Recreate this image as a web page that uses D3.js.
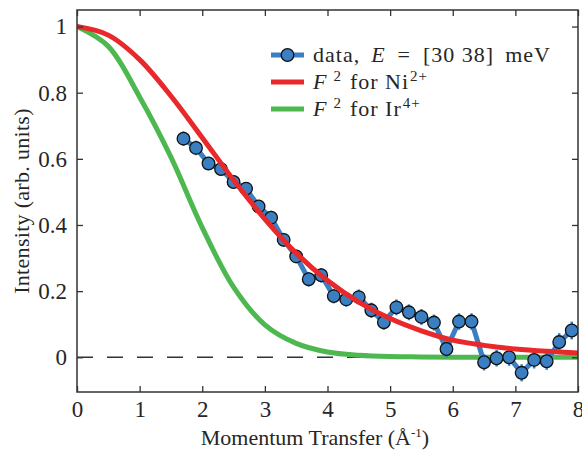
<!DOCTYPE html>
<html>
<head>
<meta charset="utf-8">
<script src="https://cdn.jsdelivr.net/npm/d3@7"></script>
<style>
  body { margin: 0; background: #fff; }
</style>
</head>
<body>
<div id="chart"></div>
<script>
// measured intensity vs momentum transfer
const dataQ = [1.7, 1.9, 2.1, 2.3, 2.5, 2.7, 2.9, 3.1, 3.3, 3.5, 3.7, 3.9, 4.1, 4.3, 4.5, 4.7,
               4.9, 5.1, 5.3, 5.5, 5.7, 5.9, 6.1, 6.3, 6.5, 6.7, 6.9, 7.1, 7.3, 7.5, 7.7, 7.9];
const dataI = [0.661, 0.633, 0.586, 0.569, 0.530, 0.510, 0.456, 0.422, 0.355, 0.305, 0.236, 0.248,
               0.185, 0.175, 0.182, 0.142, 0.106, 0.151, 0.136, 0.122, 0.105, 0.025, 0.108, 0.108,
               -0.015, -0.003, 0.000, -0.047, -0.008, -0.012, 0.046, 0.081];
const dataErr = [0.022, 0.022, 0.02, 0.02, 0.02, 0.02, 0.02, 0.021, 0.021, 0.021, 0.022, 0.022,
                 0.022, 0.022, 0.023, 0.023, 0.023, 0.024, 0.024, 0.024, 0.024, 0.025, 0.025, 0.025,
                 0.025, 0.025, 0.026, 0.026, 0.026, 0.026, 0.027, 0.027];

// form factor curves
const curveQ  = [0, 0.5, 1, 1.5, 2, 2.5, 3, 3.5, 4, 4.5, 5, 5.5, 6, 6.5, 7, 7.5, 8];
const niF2    = [1, 0.974, 0.900, 0.790, 0.664, 0.536, 0.418, 0.315, 0.232, 0.167, 0.117, 0.080,
                 0.052, 0.036, 0.025, 0.018, 0.013];
const irF2    = [1, 0.940, 0.787, 0.605, 0.392, 0.212, 0.098, 0.042, 0.016, 0.006, 0.002, 0.001,
                 0, 0, 0, 0, 0];

const xTicks = [0, 1, 2, 3, 4, 5, 6, 7, 8];
const yTicks = [0, 0.2, 0.4, 0.6, 0.8, 1];

const W = 582, H = 453;
const MARGIN = {top: 10, right: 4, bottom: 61, left: 77};
const FONT = '"Liberation Serif"';
const INK = "#262626";

const BLUE = "#3a7fc1", RED = "#e8282b", GREEN = "#4db84f";

const svg = d3.select("#chart").append("svg")
  .attr("width", W)
  .attr("height", H);

const x = d3.scaleLinear().domain([0, 8]).range([MARGIN.left, W - MARGIN.right]);
const y = d3.scaleLinear().domain([-0.105, 1.05]).range([H - MARGIN.bottom, MARGIN.top]);

svg.append("clipPath").attr("id", "plotclip")
  .append("rect")
    .attr("x", x(0)).attr("y", y(1.05))
    .attr("width", x(8) - x(0)).attr("height", y(-0.105) - y(1.05));

const plot = svg.append("g").attr("clip-path", "url(#plotclip)");

// zero reference line
plot.append("line")
  .attr("x1", x(0)).attr("x2", x(8))
  .attr("y1", y(0)).attr("y2", y(0))
  .attr("stroke", "#333")
  .attr("stroke-width", 1.4)
  .attr("stroke-dasharray", "16,14");

const curveLine = vals => d3.line()
  .x((d, i) => x(curveQ[i]))
  .y((d, i) => y(vals[i]))
  .curve(d3.curveCatmullRom.alpha(0.5))(vals);

plot.append("path")
  .attr("d", curveLine(irF2))
  .attr("fill", "none")
  .attr("stroke", GREEN)
  .attr("stroke-width", 5);

// data: line, error bars, markers
const pts = dataQ.map((q, i) => ({q, v: dataI[i], e: dataErr[i]}));

plot.append("path")
  .datum(pts)
  .attr("d", d3.line().x(d => x(d.q)).y(d => y(d.v)))
  .attr("fill", "none")
  .attr("stroke", BLUE)
  .attr("stroke-width", 5);

plot.selectAll(".err").data(pts).enter().append("line")
  .attr("class", "err")
  .attr("x1", d => x(d.q)).attr("x2", d => x(d.q))
  .attr("y1", d => y(d.v - d.e)).attr("y2", d => y(d.v + d.e))
  .attr("stroke", BLUE)
  .attr("stroke-width", 2.5);

plot.selectAll(".pt").data(pts).enter().append("circle")
  .attr("class", "pt")
  .attr("cx", d => x(d.q))
  .attr("cy", d => y(d.v))
  .attr("r", 6.3)
  .attr("fill", BLUE)
  .attr("stroke", "#111")
  .attr("stroke-width", 1.3);

plot.append("path")
  .attr("d", curveLine(niF2))
  .attr("fill", "none")
  .attr("stroke", RED)
  .attr("stroke-width", 5);

// axes, ticks pointing inward on all four sides
const AX = "#333";
const styleAxis = g => {
  g.select(".domain").remove();
  g.selectAll(".tick line").attr("stroke", AX).attr("stroke-width", 1.3);
  g.selectAll(".tick text").attr("fill", INK).style("font-size", "23px");
};

svg.append("g")
  .attr("transform", `translate(0,${y(-0.105)})`)
  .call(d3.axisBottom(x).tickValues(xTicks).tickSize(-6).tickPadding(9).tickFormat(d3.format("d")))
  .call(styleAxis);

svg.append("g")
  .attr("transform", `translate(0,${y(1.05)})`)
  .call(d3.axisTop(x).tickValues(xTicks).tickSize(-6).tickFormat(""))
  .call(styleAxis);

svg.append("g")
  .attr("transform", `translate(${x(0)},0)`)
  .call(d3.axisLeft(y).tickValues(yTicks).tickSize(-6).tickPadding(10)
    .tickFormat(d => d === 0 || d === 1 ? d3.format("d")(d) : d3.format(".1f")(d)))
  .call(styleAxis);

svg.append("g")
  .attr("transform", `translate(${x(8)},0)`)
  .call(d3.axisRight(y).tickValues(yTicks).tickSize(-6).tickFormat(""))
  .call(styleAxis);

svg.append("rect")
  .attr("x", x(0)).attr("y", y(1.05))
  .attr("width", x(8) - x(0)).attr("height", y(-0.105) - y(1.05))
  .attr("fill", "none")
  .attr("stroke", AX)
  .attr("stroke-width", 1.5);

// axis titles
const xl = svg.append("text")
  .attr("x", 315)
  .attr("y", 445)
  .attr("text-anchor", "middle")
  .attr("fill", INK)
  .style("font-size", "22px");
xl.append("tspan").text("Momentum Transfer (Å");
xl.append("tspan").attr("dy", -8).style("font-size", "13px").text("-1");
xl.append("tspan").attr("dy", 8).text(")");

svg.append("text")
  .attr("transform", `translate(29,${(y(1.05) + y(-0.105)) / 2}) rotate(-90)`)
  .attr("text-anchor", "middle")
  .attr("fill", INK)
  .style("font-size", "22px")
  .style("letter-spacing", "0.3px")
  .text("Intensity (arb. units)");

// legend
const legend = svg.append("g");
const legY = [55, 82, 109];
const lx0 = 271, lx1 = 304, tx = 313;

legend.append("line").attr("x1", lx0).attr("x2", lx1).attr("y1", legY[0]).attr("y2", legY[0])
  .attr("stroke", BLUE).attr("stroke-width", 5);
legend.append("circle").attr("cx", (lx0 + lx1) / 2).attr("cy", legY[0]).attr("r", 6.3)
  .attr("fill", BLUE).attr("stroke", "#111").attr("stroke-width", 1.3);
legend.append("line").attr("x1", lx0).attr("x2", lx1).attr("y1", legY[1]).attr("y2", legY[1])
  .attr("stroke", RED).attr("stroke-width", 5);
legend.append("line").attr("x1", lx0).attr("x2", lx1).attr("y1", legY[2]).attr("y2", legY[2])
  .attr("stroke", GREEN).attr("stroke-width", 5);

const t0 = legend.append("text").attr("x", tx).attr("y", legY[0] + 7)
  .attr("fill", INK).style("font-size", "22px").style("letter-spacing", "1px");
t0.append("tspan").text("data,");
t0.append("tspan").attr("dx", 11).style("font-style", "italic").text("E");
t0.append("tspan").attr("dx", 12).text("=");
t0.append("tspan").attr("dx", 12).text("[30 38]");
t0.append("tspan").attr("dx", 11).text("meV");

const ffLabel = (row, ion, charge) => {
  const t = legend.append("text").attr("x", tx).attr("y", legY[row] + 7)
    .attr("fill", INK).style("font-size", "22px").style("letter-spacing", "1px");
  t.append("tspan").style("font-style", "italic").text("F");
  t.append("tspan").attr("dx", 6).attr("dy", -8).style("font-size", "15px").text("2");
  t.append("tspan").attr("dx", 8).attr("dy", 8).text("for " + ion);
  t.append("tspan").attr("dx", 1).attr("dy", -8).style("font-size", "15px").text(charge);
};
ffLabel(1, "Ni", "2+");
ffLabel(2, "Ir", "4+");

// every text in the serif face
svg.selectAll("text").style("font-family", FONT);
</script>
</body>
</html>
